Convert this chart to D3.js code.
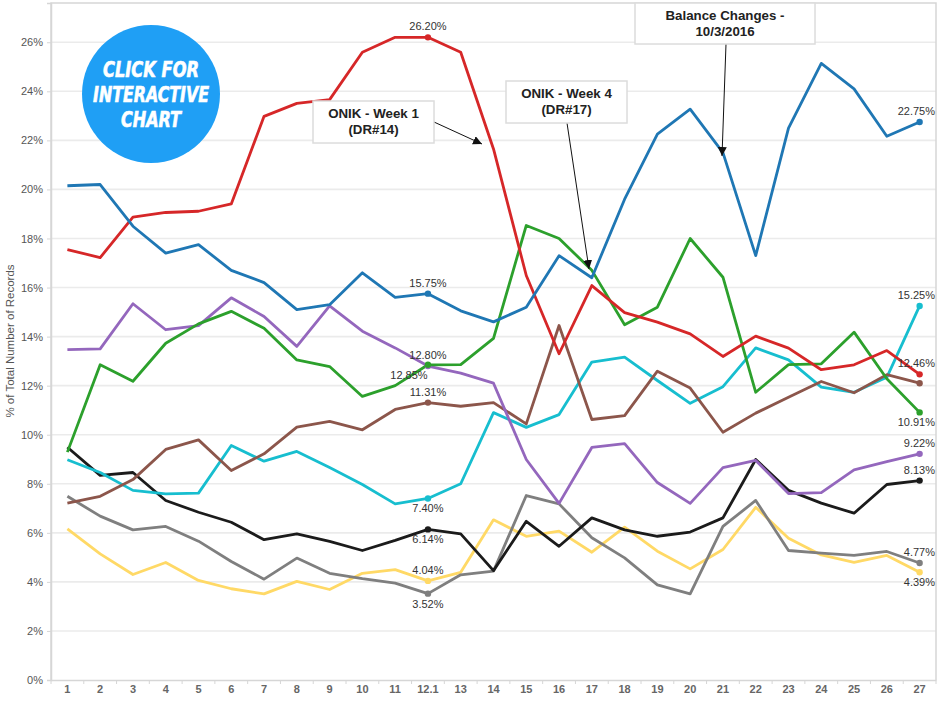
<!DOCTYPE html>
<html><head><meta charset="utf-8">
<script src="https://cdn.jsdelivr.net/npm/d3@7/dist/d3.min.js"></script>
<style>
html,body{margin:0;padding:0;background:#fff;}
svg{display:block;font-family:"Liberation Sans",Arial,sans-serif;}
</style></head>
<body><svg id="chart" width="941" height="705"></svg>
<script>
const categories = ["1","2","3","4","5","6","7","8","9","10","11","12.1","13","14","15","16","17","18","19","20","21","22","23","24","25","26","27"];
const yTicks = [0,2,4,6,8,10,12,14,16,18,20,22,24,26];

const blueSeries   = [20.15,20.2,18.5,17.4,17.75,16.7,16.2,15.1,15.3,16.6,15.6,15.75,15.05,14.6,15.2,17.3,16.4,19.6,22.25,23.27,21.5,17.3,22.5,25.14,24.1,22.17,22.75];
const redSeries    = [17.55,17.22,18.87,19.06,19.11,19.41,22.98,23.51,23.66,25.59,26.2,26.2,25.59,21.65,16.49,13.3,16.08,14.98,14.59,14.11,13.19,14.02,13.53,12.65,12.85,13.43,12.46];
const greenSeries  = [9.29,12.85,12.18,13.73,14.52,15.03,14.34,13.05,12.78,11.56,12.0,12.85,12.86,13.93,18.53,18.0,16.7,14.48,15.2,18.0,16.42,11.73,12.86,12.89,14.18,12.28,10.91];
const purpleSeries = [13.47,13.5,15.34,14.28,14.45,15.58,14.82,13.6,15.25,14.22,13.54,12.8,12.51,12.1,8.99,7.2,9.48,9.64,8.05,7.2,8.66,8.95,7.6,7.64,8.57,8.9,9.22];
const brownSeries  = [7.21,7.49,8.17,9.4,9.79,8.54,9.22,10.31,10.54,10.2,11.03,11.31,11.16,11.31,10.44,14.45,10.62,10.78,12.59,11.9,10.1,10.88,11.53,12.17,11.71,12.45,12.1];
const cyanSeries   = [8.98,8.46,7.73,7.59,7.62,9.56,8.92,9.32,8.66,7.97,7.18,7.4,8.0,10.9,10.3,10.82,12.96,13.16,12.21,11.28,11.96,13.54,13.05,11.94,11.73,12.34,15.25];
const blackSeries  = [9.49,8.34,8.46,7.32,6.84,6.43,5.72,5.96,5.65,5.28,5.69,6.14,5.96,4.46,6.47,5.45,6.61,6.12,5.86,6.03,6.61,8.99,7.73,7.21,6.8,7.97,8.13];
const graySeries   = [7.49,6.68,6.12,6.26,5.66,4.83,4.11,4.97,4.35,4.13,3.95,3.52,4.29,4.44,7.52,7.18,5.8,4.98,3.88,3.51,6.26,7.32,5.28,5.17,5.08,5.24,4.77];
const yellowSeries = [6.16,5.14,4.3,4.79,4.06,3.72,3.51,4.02,3.69,4.35,4.5,4.04,4.39,6.53,5.86,6.07,5.21,6.23,5.25,4.53,5.32,7.04,5.78,5.1,4.8,5.08,4.39];

const series = [
  {name:"yellow", color:"#ffd966", values:yellowSeries, mid:"above", end:"below"},
  {name:"gray",   color:"#7f7f7f", values:graySeries,   mid:"below", end:"above"},
  {name:"black",  color:"#1b1b1b", values:blackSeries,  mid:"below", end:"above"},
  {name:"cyan",   color:"#17becf", values:cyanSeries,   mid:"below", end:"above"},
  {name:"brown",  color:"#8c564b", values:brownSeries,  mid:"above", end:null},
  {name:"purple", color:"#9467bd", values:purpleSeries, mid:"above", end:"above"},
  {name:"green",  color:"#2ca02c", values:greenSeries,  mid:"leftbelow", end:"below"},
  {name:"red",    color:"#d62728", values:redSeries,    mid:"above", end:"above"},
  {name:"blue",   color:"#1f77b4", values:blueSeries,   mid:"above", end:"above"}
];

const svg = d3.select("#chart");
const L = 51, R = 936, T = 3, B = 680;
const x = d3.scaleBand().domain(categories).range([L, R]).padding(0);
const y = d3.scaleLinear().domain([0, 27.6]).range([B, T]);
const cx = c => x(c) + x.bandwidth()/2;

// gridlines
svg.append("g").selectAll("line").data(yTicks.filter(t=>t>0)).join("line")
  .attr("x1", L).attr("x2", R).attr("y1", d=>y(d)).attr("y2", d=>y(d))
  .attr("stroke", "#ebebeb").attr("stroke-width", 1.6);

// border
svg.append("path").attr("d", `M${L},${B}V${T}H${R}V${B}`).attr("fill","none")
  .attr("stroke","#d6d6d6").attr("stroke-width",1.5);

// y axis
const yAxis = svg.append("g").attr("transform", `translate(${L},0)`)
  .call(d3.axisLeft(y).tickValues(yTicks).tickFormat(d=>d+"%").tickSize(4).tickPadding(4));
yAxis.select(".domain").attr("stroke","#d6d6d6").attr("stroke-width",1.5);
yAxis.selectAll(".tick line").attr("stroke","#d6d6d6");
yAxis.selectAll(".tick text").attr("fill","#555").attr("font-size","11px").attr("font-family","Liberation Sans, Arial, sans-serif");

// x axis
const xAxis = svg.append("g").attr("transform", `translate(0,${B})`)
  .call(d3.axisBottom(x).tickSize(0).tickPadding(5));
xAxis.select(".domain").attr("stroke","#d6d6d6").attr("stroke-width",1.5);
xAxis.selectAll(".tick text").attr("fill","#666").attr("font-size","11px").attr("font-weight","bold").attr("font-family","Liberation Sans, Arial, sans-serif");
svg.append("g").selectAll("line").data(categories.concat(["__end"])).join("line")
  .attr("x1", (d,i)=> i<categories.length ? x(d) : R)
  .attr("x2", (d,i)=> i<categories.length ? x(d) : R)
  .attr("y1", B).attr("y2", B+4).attr("stroke","#d6d6d6").attr("stroke-width",1);

// y title
svg.append("text").attr("transform","translate(14,341) rotate(-90)").attr("text-anchor","middle")
  .attr("fill","#555").attr("font-size","11.5px").text("% of Total Number of Records");

// lines
const line = d3.line().x((d,i)=>cx(categories[i])).y(d=>y(d));
const midIdx = categories.indexOf("12.1"), endIdx = categories.length-1;
series.forEach(s=>{
  svg.append("path").datum(s.values).attr("d", line).attr("fill","none")
    .attr("stroke", s.color).attr("stroke-width", 2.8).attr("stroke-linejoin","round");
});
series.forEach(s=>{
  [midIdx, endIdx].forEach(i=>{
    svg.append("circle").attr("cx", cx(categories[i])).attr("cy", y(s.values[i])).attr("r", 3.2).attr("fill", s.color);
  });
});

// value labels
const fmt = v => v.toFixed(2) + "%";
series.forEach(s=>{
  const v = s.values[midIdx], px = cx(categories[midIdx]), py = y(v);
  let dx = 0, dy = -7;
  if (s.mid === "below") dy = 14;
  if (s.mid === "leftbelow") { dx = -19; dy = 14; }
  svg.append("text").attr("x", px+dx).attr("y", py+dy).attr("text-anchor","middle")
    .attr("font-size","11px").attr("fill","#333").text(fmt(v));
  if (s.end) {
    const ve = s.values[endIdx], pye = y(ve);
    svg.append("text").attr("x", R-1).attr("y", pye + (s.end==="above" ? -7 : 14)).attr("text-anchor","end")
      .attr("font-size","11px").attr("fill","#333").text(fmt(ve));
  }
});

// badge
const badge = svg.append("g");
badge.append("circle").attr("cx",151).attr("cy",94).attr("r",69).attr("fill","#1f9ff5");
[["CLICK FOR",69,96],["INTERACTIVE",94,116],["CHART",119,60]].forEach(([t,yy,w])=>{
  badge.append("text").attr("x",151).attr("y",yy+8).attr("text-anchor","middle")
    .attr("font-family","DejaVu Sans Condensed, DejaVu Sans, sans-serif").attr("font-weight","bold")
    .attr("font-style","italic").attr("font-size","21px").attr("fill","#fff")
    .attr("stroke","#fff").attr("stroke-width",0.6)
    .attr("textLength", w).attr("lengthAdjust","spacingAndGlyphs").text(t);
});

// annotations
const defs = svg.append("defs");
defs.append("marker").attr("id","arr").attr("viewBox","0 0 10 10").attr("refX",10).attr("refY",5)
  .attr("markerWidth",9).attr("markerHeight",9).attr("markerUnits","userSpaceOnUse").attr("orient","auto")
  .append("path").attr("d","M0,0L10,5L0,10z").attr("fill","#111");

function annot(bx,by,bw,bh,lines,ax1,ay1,ax2,ay2){
  svg.append("line").attr("x1",ax1).attr("y1",ay1).attr("x2",ax2).attr("y2",ay2)
    .attr("stroke","#111").attr("stroke-width",1).attr("marker-end","url(#arr)");
  svg.append("rect").attr("x",bx).attr("y",by).attr("width",bw).attr("height",bh)
    .attr("fill","#fff").attr("stroke","#dcdcdc").attr("stroke-width",1.5);
  lines.forEach((t,i)=>{
    svg.append("text").attr("x",bx+bw/2).attr("y",by+17+i*16).attr("text-anchor","middle")
      .attr("font-size","13.3px").attr("font-weight","bold").attr("fill","#222").text(t);
  });
}
annot(313,101,121,42,["ONIK - Week 1","(DR#14)"], 434,122, 482,144);
annot(506,81,121,42,["ONIK - Week 4","(DR#17)"], 567,123, 589,269);
annot(635,3,180,41,["Balance Changes -","10/3/2016"], 726,44, 722,156);
</script></body></html>
